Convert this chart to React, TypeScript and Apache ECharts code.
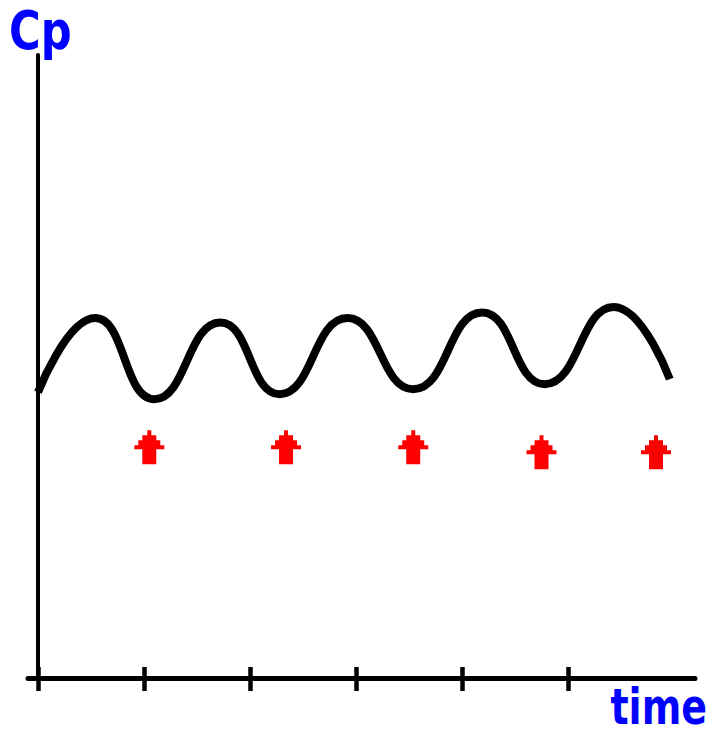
import React, { useEffect, useRef } from "react";
import * as echarts from "echarts";

// Curve knots (time units, Cp units)
const timeKnots = [0, 0.54, 1.1, 1.72, 2.28, 2.92, 3.54, 4.19, 4.78, 5.43, 5.96];
const cpValues = [4.59, 5.78, 4.48, 5.71, 4.56, 5.78, 4.64, 5.87, 4.72, 5.96, 4.8];
// Red arrows
const arrowTimes = [1.05, 2.34, 3.54, 4.75, 5.83];
const arrowCp = [3.71, 3.71, 3.71, 3.63, 3.63];
// Tick positions on time axis
const tickValues = [0, 1, 2, 3, 4, 5];
const yLabel = "Cp";
const xLabel = "time";

const ARROW =
  "path://M13 0H17V5H22V10H26V15H30V19H22V34H8V19H0V15H4V10H8V5H13Z";

export default function App() {
  const ref = useRef<HTMLDivElement>(null);
  useEffect(() => {
    if (!ref.current) return;
    const chart = echarts.init(ref.current, null, { renderer: "svg" });
    const xMin = -0.0943;
    const xMax = 6.198;
    chart.setOption({
      animation: false,
      grid: { left: 28, right: 19, top: 55, bottom: 59.5, outerBoundsMode: "none" },
      xAxis: [
        {
          type: "value",
          position: "bottom",
          min: xMin,
          max: xMax,
          axisLine: { show: true, lineStyle: { color: "#000", width: 5 } },
          axisTick: {
            show: true,
            inside: false,
            length: 12.5,
            customValues: tickValues,
            lineStyle: { color: "#000", width: 4.5 },
          },
          axisLabel: { show: false },
          splitLine: { show: false },
        },
        {
          type: "value",
          position: "bottom",
          min: xMin,
          max: xMax,
          axisLine: { show: false },
          axisTick: {
            show: true,
            inside: true,
            length: 11.5,
            customValues: tickValues,
            lineStyle: { color: "#000", width: 4.5 },
          },
          axisLabel: { show: false },
          splitLine: { show: false },
        },
      ],
      yAxis: {
        type: "value",
        min: 0,
        max: 10,
        axisLine: { show: true, onZero: true, lineStyle: { color: "#000", width: 4 } },
        axisTick: { show: false },
        axisLabel: { show: false },
        splitLine: { show: false },
      },
      graphic: [
        {
          type: "text",
          x: 9,
          y: 31,
          scaleX: 0.8,
          style: {
            text: yLabel,
            fill: "#0000FF",
            font: "bold 54px 'DejaVu Sans'",
            align: "left",
            verticalAlign: "middle",
          },
        },
        {
          type: "text",
          x: 707,
          y: 707,
          scaleX: 0.76,
          style: {
            text: xLabel,
            fill: "#0000FF",
            font: "bold 50px 'DejaVu Sans'",
            align: "right",
            verticalAlign: "middle",
          },
        },
      ],
      series: [
        {
          type: "line",
          xAxisIndex: 0,
          data: timeKnots.map((t, i) => [t, cpValues[i]]),
          smooth: 0.5,
          showSymbol: false,
          lineStyle: { color: "#000", width: 8 },
          silent: true,
        },
        {
          type: "scatter",
          xAxisIndex: 0,
          data: arrowTimes.map((t, i) => [t, arrowCp[i]]),
          symbol: ARROW,
          symbolSize: [30, 34],
          itemStyle: { color: "#FF0000", opacity: 1 },
          silent: true,
        },
      ],
    });
    return () => chart.dispose();
  }, []);
  return (
    <div
      ref={ref}
      style={{ position: "absolute", left: 0, top: 0, width: 714, height: 738 }}
    />
  );
}
